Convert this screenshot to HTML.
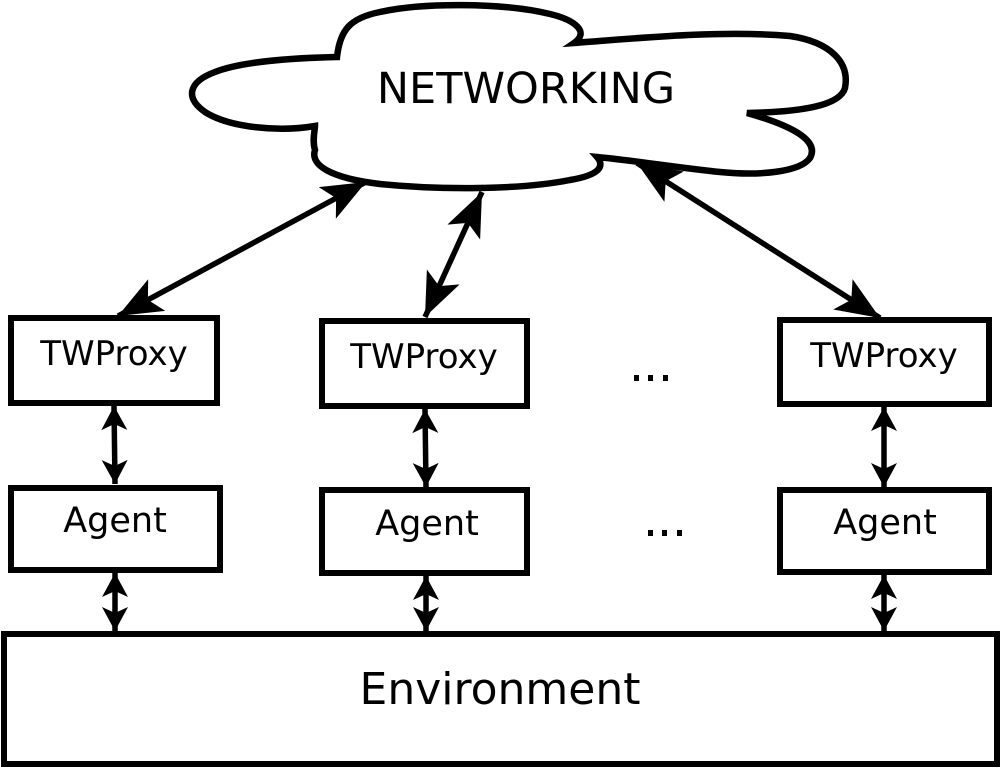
<!DOCTYPE html>
<html><head><style>
html,body{margin:0;padding:0;background:#fff;}
svg{display:block;}
text{font-family:"DejaVu Sans","Liberation Sans",sans-serif;fill:#000;}
</style></head><body>
<svg width="1000" height="768" viewBox="0 0 1000 768" xmlns="http://www.w3.org/2000/svg">
<defs>
<marker id="big" markerUnits="userSpaceOnUse" markerWidth="50" markerHeight="40" refX="44" refY="18" orient="auto-start-reverse" viewBox="0 0 50 36">
<path d="M0,0 L44,18 L0,36 L10,18 Z" fill="#000"/>
</marker>
<marker id="sm" markerUnits="userSpaceOnUse" markerWidth="26" markerHeight="26" refX="24" refY="13" orient="auto-start-reverse" viewBox="0 0 26 26">
<path d="M0,0 L24,13 L0,26 L6,13 Z" fill="#000"/>
</marker>
</defs>
<!-- cloud -->
<path d="M337,57 C340,30 350,18 380,12 C420,3 500,2 550,14 C575,20 590,32 574,43 C640,38 720,30 790,36 C830,42 850,62 845,88 C840,106 800,112 747,113 C790,125 820,140 810,158 C800,172 760,176 720,172 C680,168 630,160 597,157 C605,166 600,175 570,180 C520,190 440,190 380,184 C330,178 310,165 315,150 C312,140 315,130 315,126 C280,132 230,128 205,112 C185,98 188,82 215,72 C240,62 290,58 337,57 Z" fill="#fff" stroke="#000" stroke-width="6.5" stroke-linejoin="miter"/>
<text x="526" y="103" font-size="43" text-anchor="middle">NETWORKING</text>

<!-- cloud arrows -->
<g stroke="#000" stroke-width="5.5" fill="none">
<line x1="118" y1="316" x2="366" y2="182" marker-start="url(#big)" marker-end="url(#big)"/>
<line x1="425" y1="317" x2="482" y2="192" marker-start="url(#big)" marker-end="url(#big)"/>
<line x1="880" y1="318" x2="637" y2="163" marker-start="url(#big)" marker-end="url(#big)"/>
</g>

<!-- boxes -->
<g fill="#fff" stroke="#000" stroke-width="6">
<rect x="11" y="318" width="206" height="85"/>
<rect x="322" y="321" width="205" height="85"/>
<rect x="780" y="320" width="209" height="84"/>
<rect x="11" y="488" width="209" height="82"/>
<rect x="322" y="490" width="205" height="83"/>
<rect x="780" y="490" width="209" height="82"/>
<rect x="4" y="634" width="993" height="130"/>
</g>
<g font-size="34" text-anchor="middle">
<text x="114" y="365">TWProxy</text>
<text x="424" y="368">TWProxy</text>
<text x="884" y="367">TWProxy</text>
</g>
<g font-size="35" text-anchor="middle">
<text x="115" y="532">Agent</text>
<text x="427" y="535">Agent</text>
<text x="885" y="534">Agent</text>
</g>
<text x="500" y="704" font-size="44" text-anchor="middle">Environment</text>
<g fill="#000">
<rect x="634" y="375" width="5" height="6"/>
<rect x="648" y="375" width="5" height="6"/>
<rect x="663" y="375" width="5" height="6"/>
<rect x="648" y="530" width="5" height="6"/>
<rect x="662" y="530" width="5" height="6"/>
<rect x="677" y="530" width="5" height="6"/>
</g>

<!-- vertical arrows -->
<g stroke="#000" stroke-width="5.5">
<line x1="114" y1="406" x2="115" y2="484" marker-start="url(#sm)" marker-end="url(#sm)"/>
<line x1="425" y1="409" x2="426" y2="487" marker-start="url(#sm)" marker-end="url(#sm)"/>
<line x1="884" y1="407" x2="884" y2="487" marker-start="url(#sm)" marker-end="url(#sm)"/>
<line x1="115" y1="573" x2="115" y2="631" marker-start="url(#sm)" marker-end="url(#sm)"/>
<line x1="426" y1="576" x2="426" y2="631" marker-start="url(#sm)" marker-end="url(#sm)"/>
<line x1="884" y1="575" x2="884" y2="631" marker-start="url(#sm)" marker-end="url(#sm)"/>
</g>
</svg>
</body></html>
